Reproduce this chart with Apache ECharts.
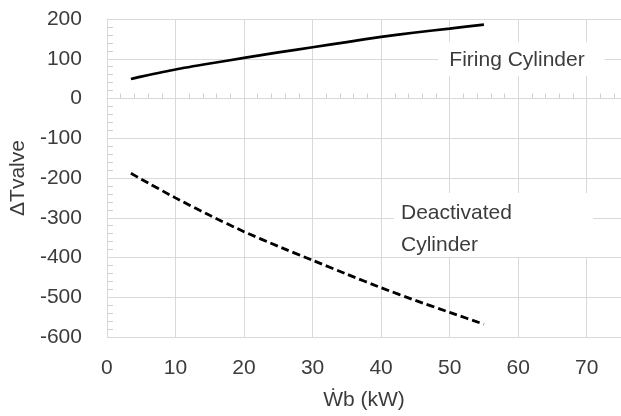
<!DOCTYPE html>
<html>
<head>
<meta charset="utf-8">
<script src="https://cdn.jsdelivr.net/npm/echarts@6/dist/echarts.min.js"></script>
<style>
  html, body { margin: 0; padding: 0; background: #ffffff; }
  #chart { width: 621px; height: 416px; }
</style>
</head>
<body>
<div id="chart"></div>
<script>
// Brake power (kW) vs. valve temperature difference
const firingX = [3.5, 5, 10, 15, 20, 25, 30, 35, 40, 45, 50, 55];
const firingY = [49, 55, 73, 88, 102, 116, 129, 142, 155, 166, 176, 186];
const deactX = [3.5, 5, 10, 15, 20, 25, 30, 35, 40, 45, 50, 55];
const deactY = [-188, -203, -250, -294, -335, -372, -407, -442, -476, -508, -538, -568];
const xTicks = [0, 10, 20, 30, 40, 50, 60, 70];
const yTicks = [-600, -500, -400, -300, -200, -100, 0, 100, 200];

const pairs = (xs, ys) => xs.map((x, i) => [x, ys[i]]);

const FONT = '"Liberation Sans", Arial, sans-serif';
const TEXT = '#3c3c3c';
const GRID = '#d9d9d9';

const chart = echarts.init(document.getElementById('chart'), null, { renderer: 'canvas' });

chart.setOption({
  animation: false,
  backgroundColor: '#ffffff',
  grid: { left: 103, right: 0, top: 19, bottom: 77 },
  xAxis: [
    {
      type: 'value',
      min: 0, max: 75, interval: 10,
      position: 'bottom',
      axisLine: { show: false, onZero: false },
      axisTick: { show: false },
      axisLabel: {
        color: TEXT, fontFamily: FONT, fontSize: 21, margin: 21,
        showMaxLabel: false,
        formatter: v => (xTicks.includes(v) ? String(v) : '')
      },
      splitLine: { show: true, lineStyle: { color: GRID, width: 1 } },
      name: '\u1E86b (kW)',
      nameLocation: 'middle',
      nameGap: 53,
      nameTextStyle: { color: TEXT, fontFamily: FONT, fontSize: 21 }
    },
    {
      // axis line drawn through zero with small upward ticks
      type: 'value',
      min: 0, max: 75, interval: 10,
      position: 'top',
      axisLine: { show: true, onZero: true, lineStyle: { color: GRID, width: 1 } },
      axisTick: { show: false },
      minorTick: { show: true, splitNumber: 5, length: 5, lineStyle: { color: '#cfcfcf', width: 1 } },
      axisLabel: { show: false },
      splitLine: { show: false }
    }
  ],
  yAxis: {
    type: 'value',
    min: -600, max: 200, interval: 100,
    axisLine: { show: true, onZero: false, lineStyle: { color: GRID, width: 1 } },
    axisTick: { show: true, inside: true, length: 6, lineStyle: { color: GRID } },
    minorTick: { show: true, splitNumber: 5, length: 6, lineStyle: { color: '#cfcfcf', width: 1 } },
    axisLabel: {
      color: TEXT, fontFamily: FONT, fontSize: 21, margin: 25,
      formatter: v => (yTicks.includes(v) ? String(v) : '')
    },
    splitLine: { show: true, lineStyle: { color: GRID, width: 1 } },
    name: '\u0394Tvalve',
    nameLocation: 'middle',
    nameGap: 74,
    nameTextStyle: { color: TEXT, fontFamily: FONT, fontSize: 21 }
  },
  series: [
    {
      name: 'Firing Cylinder',
      type: 'line',
      xAxisIndex: 0,
      data: pairs(firingX, firingY),
      smooth: 0.2,
      showSymbol: false,
      lineStyle: { color: '#000000', width: 2.7, type: 'solid' },
      z: 5
    },
    {
      name: 'Deactivated Cylinder',
      type: 'line',
      xAxisIndex: 0,
      data: pairs(deactX, deactY),
      smooth: 0.2,
      showSymbol: false,
      lineStyle: { color: '#000000', width: 2.8, type: [8, 4] },
      z: 5
    }
  ],
  graphic: [
    {
      type: 'rect', z: 10,
      shape: { x: 438, y: 42, width: 167, height: 34 },
      style: { fill: '#ffffff' }
    },
    {
      type: 'text', z: 11,
      style: {
        text: 'Firing Cylinder', x: 517, y: 60,
        align: 'center', verticalAlign: 'middle',
        fill: TEXT, font: '21px ' + FONT
      }
    },
    {
      type: 'rect', z: 10,
      shape: { x: 394, y: 193, width: 199, height: 64 },
      style: { fill: '#ffffff' }
    },
    {
      type: 'text', z: 11,
      style: {
        text: 'Deactivated\nCylinder', x: 401, y: 197,
        align: 'left', verticalAlign: 'top', lineHeight: 32,
        fill: TEXT, font: '21px ' + FONT
      }
    }
  ]
});
</script>
</body>
</html>
